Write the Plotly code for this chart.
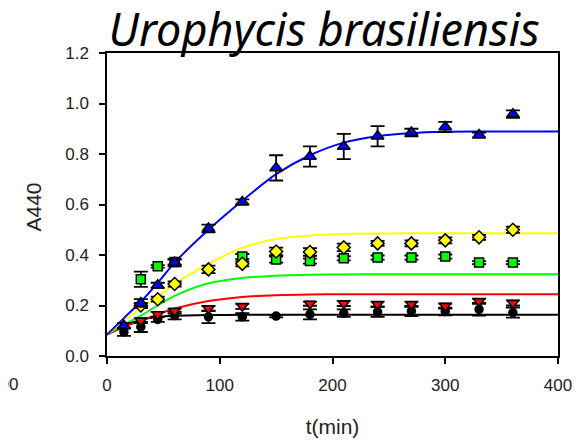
import plotly.graph_objects as go

# ---- data ----
t_blue = [15, 30, 45, 60, 90, 120, 150, 180, 210, 240, 270, 300, 330, 360]
a_blue = [0.12, 0.21, 0.28, 0.37, 0.505, 0.61, 0.745, 0.79, 0.83, 0.87, 0.885, 0.907, 0.875, 0.958]
e_blue = [0.01, 0.015, 0.01, 0.015, 0.015, 0.01, 0.05, 0.04, 0.05, 0.04, 0.015, 0.02, 0.01, 0.015]

t_yellow = [30, 45, 60, 90, 120, 150, 180, 210, 240, 270, 300, 330, 360]
a_yellow = [0.20, 0.225, 0.285, 0.343, 0.365, 0.414, 0.412, 0.43, 0.446, 0.446, 0.458, 0.47, 0.50]
e_yellow = [0.01, 0.01, 0.01, 0.015, 0.01, 0.015, 0.015, 0.015, 0.01, 0.012, 0.012, 0.01, 0.012]

t_green = [30, 45, 60, 120, 150, 180, 210, 240, 270, 300, 330, 360]
a_green = [0.304, 0.355, 0.372, 0.394, 0.382, 0.376, 0.387, 0.39, 0.39, 0.394, 0.37, 0.37]
e_green = [0.03, 0.005, 0.01, 0.01, 0.012, 0.01, 0.008, 0.008, 0.008, 0.008, 0.006, 0.006]

t_red = [30, 45, 60, 90, 120, 180, 210, 240, 270, 300, 330, 360]
a_red = [0.14, 0.165, 0.178, 0.188, 0.197, 0.207, 0.208, 0.205, 0.205, 0.198, 0.217, 0.21]
e_red = [0.01, 0.01, 0.01, 0.01, 0.01, 0.008, 0.01, 0.01, 0.01, 0.01, 0.01, 0.01]

t_black = [15, 30, 45, 60, 90, 120, 150, 180, 210, 240, 270, 300, 330, 360]
a_black = [0.095, 0.115, 0.145, 0.16, 0.155, 0.155, 0.158, 0.165, 0.17, 0.175, 0.178, 0.176, 0.185, 0.172]
e_black = [0.015, 0.02, 0.01, 0.015, 0.025, 0.015, 0.005, 0.02, 0.015, 0.02, 0.02, 0.015, 0.025, 0.02]

# fitted curves
fit_t = [0, 15, 30, 45, 60, 90, 120, 150, 180, 210, 240, 270, 300, 330, 360, 400]
fit_blue = [0.085, 0.15, 0.215, 0.29, 0.37, 0.50, 0.615, 0.72, 0.795, 0.845, 0.87, 0.883, 0.888, 0.889, 0.889, 0.889]
fit_yellow = [0.085, 0.14, 0.19, 0.235, 0.285, 0.365, 0.428, 0.463, 0.477, 0.483, 0.485, 0.486, 0.486, 0.486, 0.486, 0.486]
fit_green = [0.085, 0.125, 0.16, 0.2, 0.238, 0.288, 0.309, 0.318, 0.322, 0.323, 0.324, 0.324, 0.324, 0.324, 0.324, 0.324]
fit_red = [0.085, 0.115, 0.14, 0.165, 0.188, 0.218, 0.234, 0.241, 0.244, 0.245, 0.245, 0.245, 0.245, 0.245, 0.245, 0.245]
fit_black = [0.085, 0.12, 0.143, 0.154, 0.159, 0.162, 0.163, 0.163, 0.163, 0.163, 0.163, 0.163, 0.163, 0.163, 0.163, 0.163]

x_ticks = [0, 100, 200, 300, 400]
y_ticks = [0.0, 0.2, 0.4, 0.6, 0.8, 1.0, 1.2]

fig = go.Figure()

curves = [(fit_black, "#000000"), (fit_red, "#ff0000"), (fit_green, "#00ff00"),
          (fit_yellow, "#ffff00"), (fit_blue, "#0000ff")]
for vals, col in curves:
    fig.add_trace(go.Scatter(x=fit_t, y=vals, mode="lines",
                             line=dict(color=col, width=2, shape="spline", smoothing=0.8),
                             hoverinfo="skip", showlegend=False))

series = [
    (t_black, a_black, e_black, "#000000", "circle", 8),
    (t_red, a_red, e_red, "#ff0000", "triangle-down", 10),
    (t_green, a_green, e_green, "#00ff00", "square", 9),
    (t_yellow, a_yellow, e_yellow, "#ffff00", "diamond", 10),
    (t_blue, a_blue, e_blue, "#0000ff", "triangle-up", 11),
]
for tx, ay, ey, col, sym, sz in series:
    fig.add_trace(go.Scatter(
        x=tx, y=ay, mode="markers",
        marker=dict(color=col, symbol=sym, size=sz, line=dict(color="black", width=1.5)),
        error_y=dict(type="data", array=ey, visible=True, color="black", thickness=1.8, width=7),
        showlegend=False))

fig.update_layout(
    width=580, height=443,
    margin=dict(l=99, r=30, t=45, b=95, autoexpand=False),
    paper_bgcolor="white", plot_bgcolor="white",
    font=dict(family="Liberation Sans, Arial, sans-serif", size=17, color="#222"),
    title=dict(text="<i>Urophycis brasiliensis</i>", x=0.545, xanchor="center",
               y=0.949, yanchor="middle", automargin=False,
               font=dict(family="Noto Sans, Open Sans, sans-serif", size=45, color="black")),
    showlegend=False,
)
fig.update_xaxes(range=[0, 400], tickvals=x_ticks, ticktext=[str(v) for v in x_ticks],
                 ticks="outside", ticklen=6, tickwidth=1.5, tickcolor="black",
                 showline=True, linecolor="black", linewidth=1.5, mirror=True,
                 showgrid=False, zeroline=False, ticklabelstandoff=7, automargin=False,
                 title=dict(text="t(min)", font=dict(size=21), standoff=25))
fig.update_yaxes(range=[0, 1.2], tickvals=y_ticks, ticktext=[f"{v:.1f}" for v in y_ticks],
                 ticks="outside", ticklen=6, tickwidth=1.5, tickcolor="black",
                 showline=True, linecolor="black", linewidth=1.5, mirror=True,
                 showgrid=False, zeroline=False, ticklabelstandoff=7, automargin=False)

# y-axis title placed as a rotated annotation
fig.add_annotation(text="A440", xref="paper", yref="paper", x=(26 - 99) / 451, y=0.49,
                   xanchor="center", yanchor="middle", textangle=-90, showarrow=False,
                   font=dict(size=21, color="#222"))

# clipped tick label of the neighbouring panel at the left edge
fig.add_annotation(text="400", xref="paper", yref="paper", x=(12 - 99) / 451, y=-0.095,
                   xanchor="right", yanchor="middle", showarrow=False,
                   font=dict(size=17, color="#222"))

fig.write_html("out.html")
